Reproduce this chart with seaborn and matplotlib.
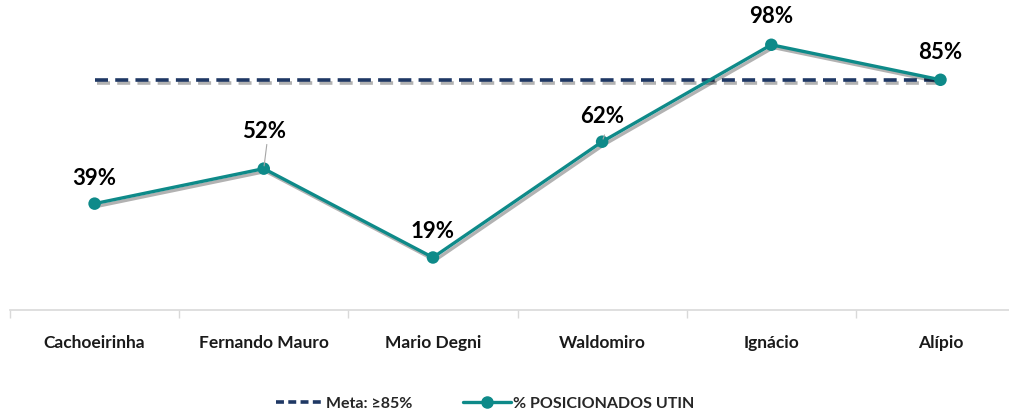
import matplotlib.pyplot as plt
import matplotlib.patheffects as pe
from matplotlib.lines import Line2D
import pandas as pd
import seaborn as sns

# data
units = ["Cachoeirinha", "Fernando Mauro", "Mario Degni", "Waldomiro", "Ignácio", "Alípio"]
pct_utin = [39, 52, 19, 62, 98, 85]
meta = [85, 85, 85, 85, 85, 85]

teal = "#0E8A89"
navy = "#1F3864"

sns.set_theme(style="white")
plt.rcParams["font.family"] = ["Lato", "DejaVu Sans"]

df = pd.DataFrame({"unit": units, "pct": pct_utin, "meta": meta})
df["x"] = range(len(units))

fig = plt.figure(figsize=(10.09, 4.10), dpi=100)
ax = fig.add_axes([10 / 1009, 99 / 410, 999 / 1009, 311 / 410])

shadow = [pe.SimpleLineShadow(offset=(1.5, -2), alpha=0.3, shadow_color="black"), pe.Normal()]

sns.lineplot(data=df, x="x", y="meta", ax=ax, color=navy, lw=2.6,
             dashes=False, path_effects=shadow)
ax.lines[-1].set_dashes((3.6, 2.0))
sns.lineplot(data=df, x="x", y="pct", ax=ax, color=teal, lw=2.4, marker="o",
             markersize=9, markeredgewidth=0, path_effects=shadow)

# data labels
offsets = [26, 38, 27, 26, 29, 28]
for i, (v, off) in enumerate(zip(pct_utin, offsets)):
    ax.annotate(f"{v}%", (i, v), xytext=(0, off * 0.72), textcoords="offset points",
                ha="center", va="center", fontsize=16, fontweight="bold",
                color="black", annotation_clip=False)
# small leader lines
ax.annotate("", (1, 52), xytext=(1.02, 52 + 10), arrowprops=dict(arrowstyle="-", color="#A6A6A6", lw=0.8))
ax.annotate("", (3, 62), xytext=(3.02, 62 + 3.5), arrowprops=dict(arrowstyle="-", color="#A6A6A6", lw=0.8))

ax.set_xticks(range(len(units)))
ax.set_xticklabels(units, fontsize=12.5, fontweight="bold", color="#1A1A1A")
ax.set_xticks([i - 0.5 for i in range(len(units) + 1)], minor=True)
ax.set_xlim(-0.5, 5.405)
ax.set_ylim(-0.5, 115)
ax.tick_params(axis="x", which="major", length=0, pad=17)
ax.tick_params(axis="x", which="minor", length=6, width=1, color="#D9D9D9", bottom=True)
ax.set_yticks([])
ax.set_xlabel("")
ax.set_ylabel("")
for s in ["top", "right", "left"]:
    ax.spines[s].set_visible(False)
ax.spines["bottom"].set_color("#D9D9D9")
ax.spines["bottom"].set_linewidth(1.2)

handles = [
    Line2D([], [], color=navy, lw=2.6, dashes=(2.2, 1.2)),
    Line2D([], [], color=teal, lw=2.4, marker="o", markersize=8),
]
fig.legend(handles, ["Meta: ≥85%", "% POSICIONADOS UTIN"], loc="center",
           bbox_to_anchor=(485 / 1009, 1 - 404 / 410), ncol=2, frameon=False,
           prop={"size": 11.5, "weight": "bold"}, handlelength=3.0, handletextpad=0.1,
           columnspacing=3.2)

fig.savefig("out.png", dpi=100)
